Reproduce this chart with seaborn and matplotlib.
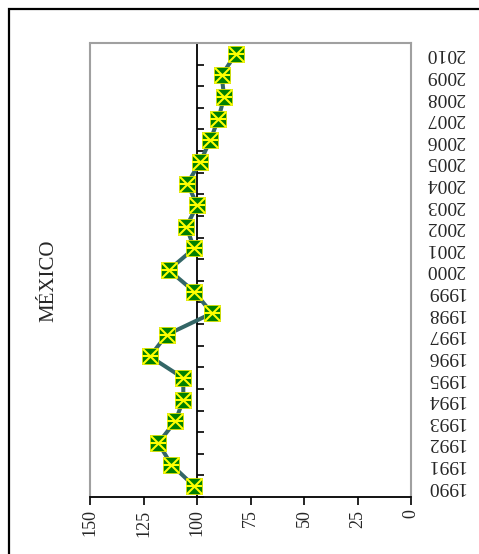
import matplotlib
matplotlib.use("Agg")
import matplotlib.pyplot as plt
import seaborn as sns
import pandas as pd
from matplotlib.patches import Rectangle

years = list(range(1990, 2011))
values = [101.3, 112.0, 118.1, 110.1, 106.4, 106.4, 122.0, 114.2, 93.0, 101.3,
          113.2, 101.3, 105.0, 99.9, 104.5, 98.5, 93.8, 90.0, 87.3, 88.5, 81.9]
value_ticks = [150, 125, 100, 75, 50, 25, 0]
title = "MÉXICO"

df = pd.DataFrame({"year": years, "value": values})

sns.set_theme(style="white")
plt.rcParams["font.family"] = ["Liberation Serif", "DejaVu Serif"]

fig = plt.figure(figsize=(4.79, 5.54), dpi=100)
ax = fig.add_axes([90/479, 1-497/554, 321/479, 454/554])

sns.lineplot(data=df, x="value", y="year", sort=False, orient="y",
             color="#336666", linewidth=2.9, ax=ax, zorder=3)
sns.scatterplot(data=df, x="value", y="year", marker="s", s=135,
                color="#008000", edgecolor="#d8e000", linewidth=0.6, ax=ax, zorder=4)
sns.scatterplot(data=df, x="value", y="year", marker="x", s=125,
                color="#ffff00", linewidth=1.5, ax=ax, zorder=5)
sns.scatterplot(data=df, x="value", y="year", marker="_", s=140,
                color="#ffff00", linewidth=1.5, ax=ax, zorder=5)

ax.set_xlim(150, 0)
ax.set_ylim(years[0]-0.5, years[-1]+0.5)
ax.set_xlabel("")
ax.set_ylabel("")

# value axis
ax.set_xticks(value_ticks)
ax.set_xticklabels([str(v) for v in value_ticks], rotation=90, fontsize=13)
ax.tick_params(axis="x", bottom=True, direction="out", length=6, width=1.2,
               color="black", pad=3)

# category axis crossing at 100
ax.spines["left"].set_position(("data", 100))
ax.spines["left"].set_color("black")
ax.spines["left"].set_linewidth(1.3)
ax.set_yticks(years)
ax.set_yticklabels([str(y) for y in years], rotation=180, fontsize=14, va="center")
ax.set_yticks([y - 0.5 for y in years] + [years[-1] + 0.5], minor=True)
ax.tick_params(axis="y", which="major", left=False, right=False,
               labelleft=False, labelright=True, length=0, pad=11)
ax.tick_params(axis="y", which="minor", left=True, right=False,
               direction="in", length=5, width=1.2, color="black")
for lbl in ax.get_yticklabels(which="major"):
    lbl.set_va("center")

for s in ["top", "right"]:
    ax.spines[s].set_color("#a0a0a0")
    ax.spines[s].set_linewidth(1.5)
ax.spines["bottom"].set_color("black")
ax.spines["bottom"].set_linewidth(1.3)

# gray left frame line of plot area
ax.plot([150, 150], [years[0]-0.5, years[-1]+0.5], color="#a0a0a0", lw=1.5,
        clip_on=False, zorder=1)

fig.text(49/479, 1-281/554, title, rotation=90, fontsize=15,
         ha="center", va="center")

fig.add_artist(Rectangle((9/479, -0.1), 1.2, 1.1 - 9/554, transform=fig.transFigure,
                         fill=False, edgecolor="black", linewidth=1.6))

fig.savefig("out.png", dpi=100)
